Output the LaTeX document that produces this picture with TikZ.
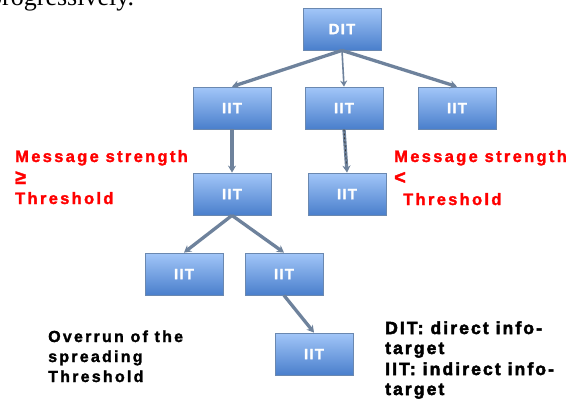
\documentclass[tikz,border=0pt]{standalone}
\usepackage{fontspec}
\setmainfont{Liberation Sans}
\newfontfamily\trk{Liberation Sans Bold}[LetterSpace=14,FakeBold=1.6]
\newfontfamily\boxf{Liberation Sans Bold}[LetterSpace=8,FakeBold=1.2]
\newfontfamily\lgd{Liberation Sans Bold}[LetterSpace=12,FakeBold=2.8]
\newfontfamily\ser{Liberation Serif}
\usetikzlibrary{arrows.meta,shadows}
\definecolor{boxtop}{HTML}{A2C6F8}
\definecolor{boxbot}{HTML}{4A7FCC}
\definecolor{boxline}{HTML}{6A88B0}
\definecolor{arr}{HTML}{6E829C}
\definecolor{msgred}{HTML}{FF0000}
\tikzset{
  itbox/.style={rectangle, minimum width=78pt, minimum height=42pt, inner sep=0pt,
    top color=boxtop, bottom color=boxbot, draw=boxline, line width=0.8pt,
    text=white, font=\boxf\fontsize{15}{15}\selectfont,
    drop shadow={opacity=0.25, shadow xshift=1.2pt, shadow yshift=-1.2pt}},
  conn/.style={draw=arr, line width=3.3pt, -{Stealth[length=7pt,width=8pt]}},
  thinconn/.style={draw=arr, line width=1.6pt, -{Stealth[length=6pt,width=7pt]}},
  redtxt/.style={anchor=base west, inner sep=0pt, text=msgred, font=\trk\fontsize{16.5}{16.5}\selectfont},
  bigsym/.style={anchor=base west, inner sep=0pt, text=msgred, font=\trk\fontsize{20}{20}\selectfont},
  blktxt/.style={anchor=base west, inner sep=0pt, text=black, font=\trk\fontsize{16}{16}\selectfont},
  lgdtxt/.style={anchor=base west, inner sep=0pt, text=black, font=\lgd\fontsize{17.5}{17.5}\selectfont},
}
\begin{document}
\begin{tikzpicture}[x=1pt,y=-1pt]
\useasboundingbox (0,0) rectangle (577,402);
\fill[white] (0,0) rectangle (577,402);
\node[anchor=base west, inner sep=0pt, font=\ser\fontsize{26}{26}\selectfont] (frag) at (-11,5) {progressively.};

\node[itbox] (dit) at (342,29) {DIT};
\node[itbox] (i1) at (232,108) {IIT};
\node[itbox] (i2) at (344,108) {IIT};
\node[itbox] (i3) at (457,108) {IIT};
\node[itbox] (r3a) at (232,194) {IIT};
\node[itbox] (r3b) at (347,194) {IIT};
\node[itbox] (r4a) at (184,274) {IIT};
\node[itbox] (r4b) at (284,274) {IIT};
\node[itbox] (r5) at (314,354) {IIT};

\draw[conn] (dit.south) -- (i1.north);
\draw[thinconn] (dit.south) -- (i2.north);
\draw[conn] (dit.south) -- (i3.north);
\draw[conn] (i1.south) -- (r3a.north);
\draw[conn] (i2.south) -- (r3b.north);
\draw[black!80, line width=0.8pt, dash pattern=on 2pt off 2pt, shorten >=8pt] (i2.south) -- (r3b.north);
\draw[conn] (r3a.south) -- (r4a.north);
\draw[conn] (r3a.south) -- (r4b.north);
\draw[conn] (r4b.south) -- (r5.north);

\node[redtxt] (lm1) at (15,162) {Message strength};
\node[bigsym] (lm2) at (15,184) {≥};
\node[redtxt] (lm3) at (15,204) {Threshold};

\node[redtxt] (rm1) at (394,162) {Message strength};
\node[bigsym] (rm2) at (394,184) {<};
\node[redtxt] (rm3) at (403,205) {Threshold};

\node[blktxt] (o1) at (48,342) {Overrun of the};
\node[blktxt] (o2) at (48,362) {spreading};
\node[blktxt] (o3) at (48,382) {Threshold};

\node[lgdtxt] (l1) at (385,334) {DIT: direct info-};
\node[lgdtxt] (l2) at (385,354) {target};
\node[lgdtxt] (l3) at (385,375) {IIT: indirect info-};
\node[lgdtxt] (l4) at (385,395) {target};
\end{tikzpicture}
\end{document}
